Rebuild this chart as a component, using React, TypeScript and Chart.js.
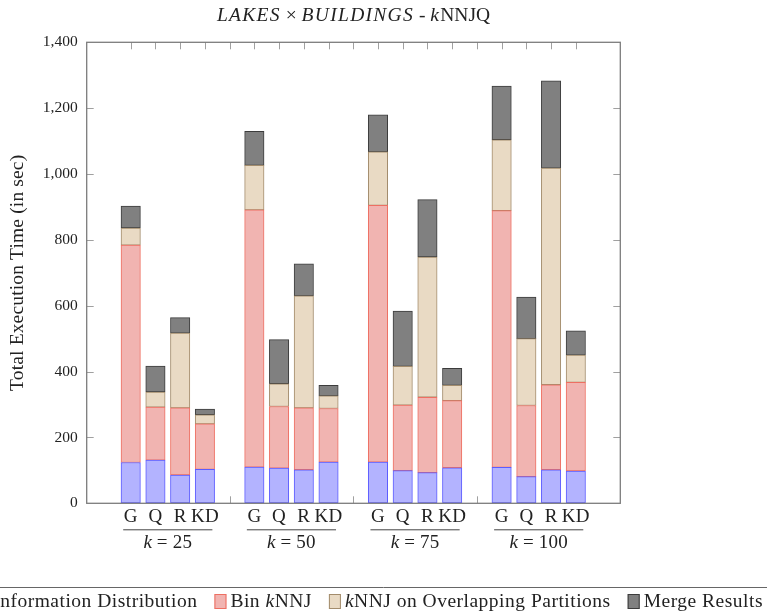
import { useEffect, useRef } from 'react';
import { Chart, registerables } from 'chart.js';

Chart.register(...registerables);

// ---- data -------------------------------------------------------------
const methods = ['G', 'Q', 'R', 'KD'];
const kValues = [25, 50, 75, 100];
const seriesLabels = [
  'Information Distribution',
  'Bin kNNJ',
  'kNNJ on Overlapping Partitions',
  'Merge Results',
];
// per bar, ordered k=25 (G,Q,R,KD), k=50 (...), k=75 (...), k=100 (...)
const infoDistribution = [124, 131, 86, 103, 110, 107, 102, 125, 125, 99, 93, 108, 109, 81, 102, 98];
const binKnnj = [660, 161, 204, 138, 781, 187, 188, 163, 780, 199, 229, 204, 780, 216, 258, 269];
const overlapKnnj = [52, 46, 227, 28, 135, 69, 340, 38, 162, 118, 426, 46, 215, 203, 658, 83];
const mergeResults = [67, 79, 47, 17, 104, 134, 97, 32, 113, 168, 174, 52, 163, 126, 265, 74];
const yTicks = [0, 200, 400, 600, 800, 1000, 1200, 1400];

type Run = [string, boolean];
const titleRuns: Run[] = [
  ['LAKES', true],
  [' \u00d7 ', false],
  ['BUILDINGS', true],
  [' - ', false],
  ['k', true],
  ['NNJQ', false],
];
const yAxisTitle = 'Total Execution Time (in sec)';

// ---- styling ----------------------------------------------------------
const SERIF = '"Liberation Serif", "Times New Roman", serif';
const TEXT = '#222';
const seriesStyles = [
  { fill: '#b3b3ff', stroke: '#5c5cff' },
  { fill: '#f1b4b1', stroke: '#ee6f62' },
  { fill: '#e9dac4', stroke: '#a38c6c' },
  { fill: '#808080', stroke: '#3c3c3c' },
];
const seriesValues = [infoDistribution, binKnnj, overlapKnnj, mergeResults];

// each k group takes methods.length slots plus one empty slot as a separator
const slotOf = (g: number, m: number) => g * (methods.length + 1) + m + 1;

const fontOf = (size: number, italic: boolean) => `${italic ? 'italic ' : ''}${size}px ${SERIF}`;

interface TextStyle {
  size: number;
  spacing?: number; // letter spacing for upright text
  italicSpacing?: number; // letter spacing for italic (math) text
}

function applyRun(ctx: CanvasRenderingContext2D, st: TextStyle, italic: boolean) {
  ctx.font = fontOf(st.size, italic);
  (ctx as any).letterSpacing = `${(italic ? st.italicSpacing : st.spacing) ?? 0}px`;
}

function runsWidth(ctx: CanvasRenderingContext2D, runs: Run[], st: TextStyle) {
  let w = 0;
  for (const [t, it] of runs) {
    applyRun(ctx, st, it);
    w += ctx.measureText(t).width;
  }
  return w;
}

function drawRuns(
  ctx: CanvasRenderingContext2D,
  runs: Run[],
  x: number,
  y: number,
  st: TextStyle,
  align: 'left' | 'center' | 'right',
) {
  const w = runsWidth(ctx, runs, st);
  let cx = align === 'left' ? x : align === 'center' ? x - w / 2 : x - w;
  ctx.textAlign = 'left';
  for (const [t, it] of runs) {
    applyRun(ctx, st, it);
    ctx.fillText(t, cx, y);
    cx += ctx.measureText(t).width;
  }
  (ctx as any).letterSpacing = '0px';
  return w;
}

// "kNNJ" is set with an italic k
const kRuns = (label: string): Run[] =>
  label
    .split(/(k(?=NNJ))/)
    .filter((p) => p.length > 0)
    .map((p) => [p, p === 'k'] as Run);

const titleStyle: TextStyle = { size: 19.5, spacing: 0, italicSpacing: 1.3 };
const axisTitleStyle: TextStyle = { size: 19.5, spacing: 0.15 };
const groupStyle: TextStyle = { size: 19, spacing: 0.2 };
const legendStyle: TextStyle = { size: 19.5, spacing: 0.5, italicSpacing: 0.5 };

const decorations = {
  id: 'decorations',
  beforeDatasetsDraw(chart: any) {
    const { ctx, chartArea: a, scales } = chart;
    const x = scales.x;
    const y = scales.y;
    ctx.save();
    ctx.strokeStyle = '#a0a0a0';
    ctx.lineWidth = 1;
    const tick = 7;
    const first = slotOf(0, 0);
    const last = slotOf(kValues.length - 1, methods.length - 1);
    ctx.beginPath();
    for (let s = first; s <= last; s++) {
      const px = Math.round(x.getPixelForValue(s)) + 0.5;
      ctx.moveTo(px, a.top);
      ctx.lineTo(px, a.top + tick);
      ctx.moveTo(px, a.bottom);
      ctx.lineTo(px, a.bottom - tick);
    }
    for (const v of yTicks.slice(1, -1)) {
      const py = Math.round(y.getPixelForValue(v)) + 0.5;
      ctx.moveTo(a.left, py);
      ctx.lineTo(a.left + tick, py);
      ctx.moveTo(a.right, py);
      ctx.lineTo(a.right - tick, py);
    }
    ctx.stroke();
    ctx.restore();
  },
  afterDatasetsDraw(chart: any) {
    const { ctx, chartArea: a } = chart;
    ctx.save();
    ctx.strokeStyle = '#7c7c7c';
    ctx.lineWidth = 1.3;
    ctx.strokeRect(a.left, a.top, a.right - a.left, a.bottom - a.top);
    ctx.restore();
  },
  afterDraw(chart: any) {
    const { ctx, chartArea: a, scales, width } = chart;
    const x = scales.x;
    ctx.save();
    ctx.fillStyle = TEXT;
    ctx.textBaseline = 'middle';

    // method labels, group rule and k labels
    kValues.forEach((k, g) => {
      methods.forEach((m, i) => {
        drawRuns(ctx, [[m, false]], x.getPixelForValue(slotOf(g, i)), a.bottom + 13.5, groupStyle, 'center');
      });
      const x0 = x.getPixelForValue(slotOf(g, 0)) - 7.5;
      const x1 = x.getPixelForValue(slotOf(g, methods.length - 1)) + 7.5;
      ctx.strokeStyle = '#444';
      ctx.lineWidth = 1;
      ctx.beginPath();
      ctx.moveTo(x0, a.bottom + 26.5);
      ctx.lineTo(x1, a.bottom + 26.5);
      ctx.stroke();
      drawRuns(ctx, [['k', true], [` = ${k}`, false]], (x0 + x1) / 2, a.bottom + 39.5, groupStyle, 'center');
    });

    // title
    drawRuns(ctx, titleRuns, (a.left + a.right) / 2, 16, titleStyle, 'center');

    // y axis title
    ctx.save();
    ctx.translate(18, (a.top + a.bottom) / 2);
    ctx.rotate(-Math.PI / 2);
    drawRuns(ctx, [[yAxisTitle, false]], 0, 0, axisTitleStyle, 'center');
    ctx.restore();

    // legend, laid out right to left so that it runs off the left edge
    const lineY = 587.5;
    ctx.strokeStyle = '#666';
    ctx.lineWidth = 1;
    ctx.beginPath();
    ctx.moveTo(0, lineY);
    ctx.lineTo(width, lineY);
    ctx.stroke();
    let right = width - 4;
    const datasets = chart.data.datasets;
    for (let i = datasets.length - 1; i >= 0; i--) {
      const runs = kRuns(datasets[i].label);
      const w = runsWidth(ctx, runs, legendStyle);
      const tx = right - w;
      ctx.fillStyle = TEXT;
      drawRuns(ctx, runs, tx, 602, legendStyle, 'left');
      const bx = tx - 4 - 12;
      ctx.fillStyle = seriesStyles[i].fill;
      ctx.strokeStyle = seriesStyles[i].stroke;
      ctx.lineWidth = 1;
      ctx.fillRect(bx, 594, 12, 15);
      ctx.strokeRect(bx + 0.5, 594.5, 11, 14);
      right = bx - 17;
    }
    ctx.restore();
  },
};

export default function App() {
  const ref = useRef<HTMLCanvasElement>(null);

  useEffect(() => {
    const canvas = ref.current;
    if (!canvas) return;
    const chart = new Chart(canvas, {
      type: 'bar',
      data: {
        datasets: seriesValues.map((values, s) => ({
          label: seriesLabels[s],
          data: values.map((v, i) => ({
            x: slotOf(Math.floor(i / methods.length), i % methods.length),
            y: v,
          })),
          backgroundColor: seriesStyles[s].fill,
          borderColor: seriesStyles[s].stroke,
          borderWidth: 1,
          borderSkipped: false,
          barThickness: 19.4,
        })),
      },
      options: {
        animation: false,
        responsive: false,
        maintainAspectRatio: false,
        devicePixelRatio: 1,
        layout: { padding: { top: 42.3, right: 146.7, bottom: 110.7, left: 0 } },
        plugins: {
          legend: { display: false },
          title: { display: false },
          tooltip: { enabled: false },
        },
        scales: {
          x: {
            type: 'linear',
            stacked: true,
            offset: false,
            min: -0.78,
            max: 20.8,
            display: false,
          },
          y: {
            stacked: true,
            min: 0,
            max: 1400,
            afterBuildTicks: (scale: any) => {
              scale.ticks = yTicks.map((value) => ({ value }));
            },
            afterFit: (scale: any) => {
              scale.width = 86.7;
            },
            ticks: {
              padding: 9,
              color: TEXT,
              font: { family: SERIF, size: 15.5 },
              callback: (v: any) => Number(v).toLocaleString('en-US'),
            },
            grid: { drawOnChartArea: false, drawTicks: false },
            border: { display: false },
          },
        },
      },
      plugins: [decorations],
    });
    return () => chart.destroy();
  }, []);

  return (
    <div style={{ position: 'absolute', left: 0, top: 0, width: 767, height: 614, background: '#fff' }}>
      <canvas ref={ref} width={767} height={614} style={{ display: 'block' }} />
    </div>
  );
}
